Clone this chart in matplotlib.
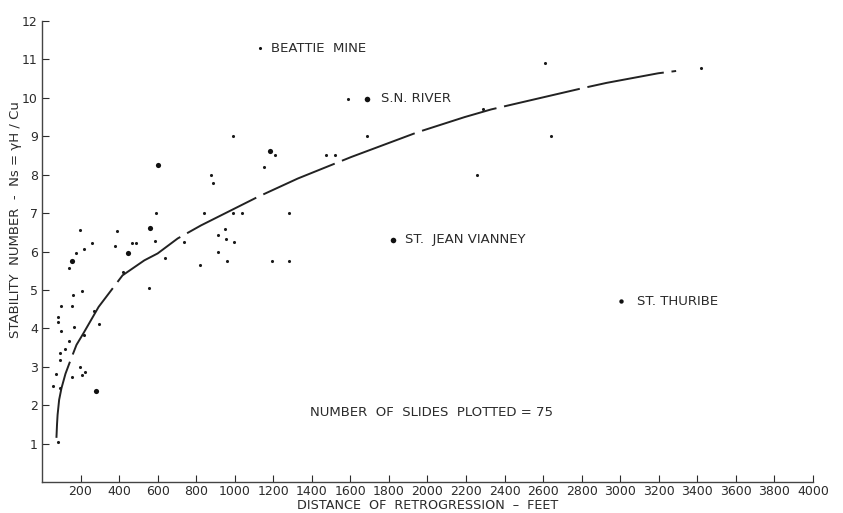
import numpy as np
import matplotlib
matplotlib.use("Agg")
import matplotlib.pyplot as plt

# ---------------------------
# Slide data: distance of retrogression (ft) vs stability number Ns
# ---------------------------
slide_dist = [590, 195, 387, 257, 217, 179, 378, 466, 486, 588,
              138, 418, 636, 557, 210, 160, 100, 157, 81, 81,
              271, 294, 164, 101, 219, 138, 120, 95, 95, 72,
              195, 224, 207, 158, 56, 95, 82,
              990, 1211, 1152, 875, 889, 841, 991, 1036, 1279,
              948, 915, 955, 998, 739, 915, 820, 960, 1194, 1279,
              1476, 1521, 1686, 1590,
              2612, 2288, 2640, 2258, 3419]
slide_ns = [7.0, 6.57, 6.53, 6.23, 6.06, 5.97, 6.15, 6.23, 6.23, 6.28,
            5.58, 5.47, 5.83, 5.06, 4.97, 4.86, 4.57, 4.57, 4.30, 4.17,
            4.46, 4.12, 4.03, 3.93, 3.84, 3.68, 3.46, 3.36, 3.18, 2.81,
            2.99, 2.86, 2.78, 2.74, 2.50, 2.44, 1.03,
            9.0, 8.50, 8.20, 7.98, 7.79, 7.0, 7.0, 7.0, 7.0,
            6.58, 6.42, 6.32, 6.24, 6.25, 6.0, 5.66, 5.76, 5.76, 5.76,
            8.52, 8.52, 9.0, 9.98,
            10.9, 9.71, 9.0, 8.0, 10.79]

# slides inked with a heavier dot
heavy_dist = [562, 444, 157, 282, 600, 1182]
heavy_ns = [6.62, 5.95, 5.76, 2.36, 8.26, 8.62]

# named slides
site_names = ["BEATTIE  MINE", "S.N. RIVER", "ST.  JEAN VIANNEY", "ST. THURIBE"]
site_dist = [1133, 1686, 1821, 3002]
site_ns = [11.29, 9.98, 6.30, 4.71]

# hand-drawn trend curve
curve_dist = [75, 78, 81, 89, 101, 122, 145, 179, 216, 294, 418, 531, 600,
              704, 825, 1119, 1327, 1604, 1951, 2193, 2331, 2811, 2929, 3197,
              3290]
curve_ns = [1.15, 1.5, 1.75, 2.14, 2.44, 2.82, 3.13, 3.57, 3.88, 4.56, 5.38,
            5.77, 5.95, 6.34, 6.68, 7.42, 7.90, 8.46, 9.11, 9.5, 9.70, 10.26,
            10.39, 10.64, 10.70]

x_ticks = list(range(200, 4001, 200))
y_ticks = list(range(1, 13))

# ---------------------------
# Figure
# ---------------------------
ink = "#2b2b2b"
plt.rcParams['font.family'] = ['DejaVu Sans']

fig = plt.figure(figsize=(8.43, 5.13), dpi=100)
ax = fig.add_axes([0.0498, 0.0604, 0.9146, 0.8986])

ax.plot(curve_dist, curve_ns, color="#222222", linewidth=1.4,
        dashes=(40, 4), solid_capstyle='butt')

ax.scatter(slide_dist, slide_ns, s=5, color="#1a1a1a", linewidths=0, zorder=3)
ax.scatter(heavy_dist, heavy_ns, s=14, color="#111111", linewidths=0, zorder=3)

site_sizes = [5, 16, 16, 10]
site_offsets = [8, 10, 9, 12]
for name, xd, yd, sz, dx in zip(site_names, site_dist, site_ns, site_sizes, site_offsets):
    ax.scatter([xd], [yd], s=sz, color="#111111", linewidths=0, zorder=3)
    ax.annotate(name, (xd, yd), xytext=(dx, 0), textcoords='offset points',
                va='center', ha='left', fontsize=9.5, color=ink)

ax.text(1390, 1.82, "NUMBER  OF  SLIDES  PLOTTED = 75", fontsize=9.5,
        color=ink, va='center', ha='left')

ax.set_xlim(0, 4000)
ax.set_ylim(0, 12)
ax.set_xticks(x_ticks)
ax.set_yticks(y_ticks)
ax.tick_params(direction='in', length=5, width=0.8, colors=ink,
               labelsize=9, pad=3)
ax.tick_params(axis='x', pad=2)

for side in ['top', 'right']:
    ax.spines[side].set_visible(False)
for side in ['left', 'bottom']:
    ax.spines[side].set_color("#444444")
    ax.spines[side].set_linewidth(1.0)

ax.set_xlabel("DISTANCE  OF  RETROGRESSION  –  FEET", fontsize=9.2,
              color=ink, labelpad=0)
ax.xaxis.set_label_coords(0.5, -0.036)
ax.set_ylabel("STABILITY  NUMBER  -  Ns = γH / Cu", fontsize=9.5,
              color=ink, labelpad=2)
ax.yaxis.set_label_coords(-0.026, 0.57)

fig.savefig("out.png", dpi=100)
